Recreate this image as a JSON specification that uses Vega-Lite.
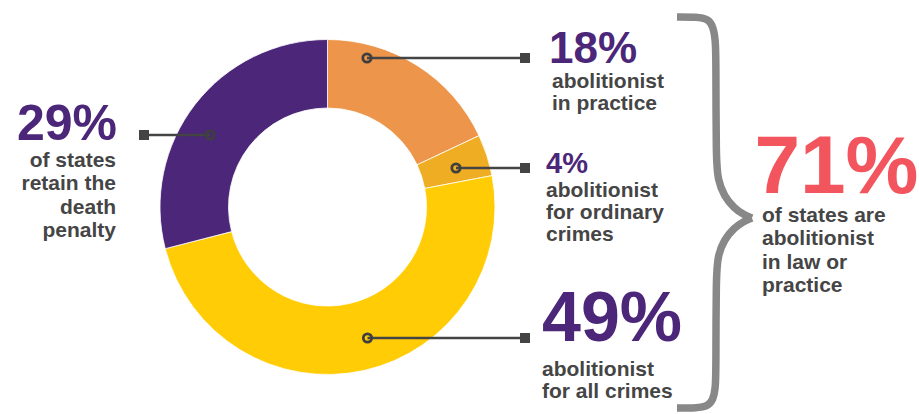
{
  "$schema": "https://vega.github.io/schema/vega-lite/v6.json",
  "width": 655,
  "height": 414,
  "padding": 0,
  "autosize": {"type": "pad"},
  "background": "white",
  "config": {"view": {"stroke": null}, "text": {"font": "Liberation Sans"}},
  "datasets": {
    "shares": [
      {"status": "Abolitionist in practice", "pct": 18, "order": 1},
      {"status": "Abolitionist for ordinary crimes", "pct": 4, "order": 2},
      {"status": "Abolitionist for all crimes", "pct": 49, "order": 3},
      {"status": "Retain the death penalty", "pct": 29, "order": 4}
    ],
    "callouts": [
      {"status": "Retain the death penalty", "side": "left", "pct_label": "29%", "note": "of states\nretain the\ndeath\npenalty", "dot_x": 210, "end_x": 144, "line_y": 135, "pct_x": 117, "pct_y": 140, "note_x": 116, "note_y": 167},
      {"status": "Abolitionist in practice", "side": "right", "pct_label": "18%", "note": "abolitionist\nin practice", "dot_x": 367, "end_x": 525, "line_y": 58, "pct_x": 549, "pct_y": 63, "note_x": 552, "note_y": 88},
      {"status": "Abolitionist for ordinary crimes", "side": "right", "pct_label": "4%", "note": "abolitionist\nfor ordinary\ncrimes", "dot_x": 456, "end_x": 525, "line_y": 168, "pct_x": 546, "pct_y": 173, "note_x": 546, "note_y": 197},
      {"status": "Abolitionist for all crimes", "side": "right", "pct_label": "49%", "note": "abolitionist\nfor all crimes", "dot_x": 367.5, "end_x": 525, "line_y": 338, "pct_x": 542, "pct_y": 341, "note_x": 542, "note_y": 376}
    ],
    "summary": [
      {"pct_label": "71%", "note": "of states are\nabolitionist\nin law or\npractice", "pct_x": 918.5, "pct_y": 193, "note_x": 762, "note_y": 222}
    ],
    "brace": [
      {"part": "upper", "i": 0, "x": 677, "y": 17},
      {"part": "upper", "i": 1, "x": 697, "y": 17},
      {"part": "upper", "i": 2, "x": 708, "y": 19},
      {"part": "upper", "i": 3, "x": 713, "y": 26},
      {"part": "upper", "i": 4, "x": 715.5, "y": 40},
      {"part": "upper", "i": 5, "x": 716, "y": 60},
      {"part": "upper", "i": 6, "x": 716, "y": 160},
      {"part": "upper", "i": 7, "x": 718, "y": 180},
      {"part": "upper", "i": 8, "x": 724, "y": 196},
      {"part": "upper", "i": 9, "x": 734, "y": 208},
      {"part": "upper", "i": 10, "x": 744, "y": 215},
      {"part": "upper", "i": 11, "x": 752, "y": 218},
      {"part": "lower", "i": 0, "x": 752, "y": 218},
      {"part": "lower", "i": 1, "x": 744, "y": 221},
      {"part": "lower", "i": 2, "x": 734, "y": 228},
      {"part": "lower", "i": 3, "x": 724, "y": 240},
      {"part": "lower", "i": 4, "x": 718, "y": 255},
      {"part": "lower", "i": 5, "x": 716, "y": 275},
      {"part": "lower", "i": 6, "x": 716, "y": 370},
      {"part": "lower", "i": 7, "x": 715.5, "y": 388},
      {"part": "lower", "i": 8, "x": 713, "y": 400},
      {"part": "lower", "i": 9, "x": 708, "y": 406},
      {"part": "lower", "i": 10, "x": 697, "y": 408},
      {"part": "lower", "i": 11, "x": 677, "y": 408}
    ]
  },
  "layer": [
    {
      "data": {"name": "shares"},
      "mark": {"type": "arc", "outerRadius": 167.5, "innerRadius": 99, "stroke": "white", "strokeWidth": 0.8},
      "encoding": {
        "theta": {"field": "pct", "type": "quantitative", "stack": true},
        "order": {"field": "order", "type": "quantitative"},
        "color": {
          "field": "status", "type": "nominal", "legend": null,
          "scale": {
            "domain": ["Abolitionist in practice", "Abolitionist for ordinary crimes", "Abolitionist for all crimes", "Retain the death penalty"],
            "range": ["#ED954A", "#EEAD22", "#FFCC05", "#4B2679"]
          }
        }
      }
    },
    {
      "data": {"name": "brace"},
      "mark": {"type": "line", "interpolate": "basis", "strokeWidth": 7.5, "color": "#888888", "strokeCap": "butt"},
      "encoding": {
        "x": {"field": "x", "type": "quantitative", "scale": {"domain": [0, 655], "nice": false, "zero": false}, "axis": null},
        "y": {"field": "y", "type": "quantitative", "scale": {"domain": [0, 414], "nice": false, "zero": false, "reverse": true}, "axis": null},
        "detail": {"field": "part"},
        "order": {"field": "i", "type": "quantitative"}
      }
    },
    {
      "data": {"name": "callouts"},
      "mark": {"type": "rule", "color": "#444444", "strokeWidth": 2.5},
      "encoding": {
        "x": {"field": "dot_x", "type": "quantitative", "scale": {"domain": [0, 655], "nice": false, "zero": false}, "axis": null},
        "x2": {"field": "end_x"},
        "y": {"field": "line_y", "type": "quantitative", "scale": {"domain": [0, 414], "nice": false, "zero": false, "reverse": true}, "axis": null}
      }
    },
    {
      "data": {"name": "callouts"},
      "mark": {"type": "point", "shape": "square", "filled": true, "size": 100, "color": "#444444", "opacity": 1},
      "encoding": {
        "x": {"field": "end_x", "type": "quantitative"},
        "y": {"field": "line_y", "type": "quantitative"}
      }
    },
    {
      "data": {"name": "callouts"},
      "mark": {"type": "point", "shape": "circle", "filled": false, "size": 70, "color": "#3f3f3f", "strokeWidth": 2.8, "opacity": 1, "strokeOpacity": 1},
      "encoding": {
        "x": {"field": "dot_x", "type": "quantitative"},
        "y": {"field": "line_y", "type": "quantitative"}
      }
    },
    {
      "data": {"name": "callouts"},
      "transform": [{"filter": "datum.pct_label === '29%'"}],
      "mark": {"type": "text", "align": "right", "baseline": "alphabetic", "fontWeight": "bold", "fontSize": 50, "color": "#4B2679"},
      "encoding": {
        "x": {"field": "pct_x", "type": "quantitative"},
        "y": {"field": "pct_y", "type": "quantitative"},
        "text": {"field": "pct_label"}
      }
    },
    {
      "data": {"name": "callouts"},
      "transform": [{"filter": "datum.pct_label === '18%'"}],
      "mark": {"type": "text", "align": "left", "baseline": "alphabetic", "fontWeight": "bold", "fontSize": 44, "color": "#4B2679"},
      "encoding": {
        "x": {"field": "pct_x", "type": "quantitative"},
        "y": {"field": "pct_y", "type": "quantitative"},
        "text": {"field": "pct_label"}
      }
    },
    {
      "data": {"name": "callouts"},
      "transform": [{"filter": "datum.pct_label === '4%'"}],
      "mark": {"type": "text", "align": "left", "baseline": "alphabetic", "fontWeight": "bold", "fontSize": 29, "color": "#4B2679"},
      "encoding": {
        "x": {"field": "pct_x", "type": "quantitative"},
        "y": {"field": "pct_y", "type": "quantitative"},
        "text": {"field": "pct_label"}
      }
    },
    {
      "data": {"name": "callouts"},
      "transform": [{"filter": "datum.pct_label === '49%'"}],
      "mark": {"type": "text", "align": "left", "baseline": "alphabetic", "fontWeight": "bold", "fontSize": 70, "color": "#4B2679"},
      "encoding": {
        "x": {"field": "pct_x", "type": "quantitative"},
        "y": {"field": "pct_y", "type": "quantitative"},
        "text": {"field": "pct_label"}
      }
    },
    {
      "data": {"name": "summary"},
      "mark": {"type": "text", "align": "right", "baseline": "alphabetic", "fontWeight": "bold", "fontSize": 82, "color": "#F2555E"},
      "encoding": {
        "x": {"field": "pct_x", "type": "quantitative"},
        "y": {"field": "pct_y", "type": "quantitative"},
        "text": {"field": "pct_label"}
      }
    },
    {
      "data": {"name": "callouts"},
      "transform": [{"filter": "datum.side === 'left'"}],
      "mark": {"type": "text", "align": "right", "baseline": "alphabetic", "fontWeight": "bold", "fontSize": 21, "lineHeight": 23.3, "lineBreak": "\n", "color": "#454545"},
      "encoding": {
        "x": {"field": "note_x", "type": "quantitative"},
        "y": {"field": "note_y", "type": "quantitative"},
        "text": {"field": "note"}
      }
    },
    {
      "data": {"name": "callouts"},
      "transform": [{"filter": "datum.side === 'right'"}],
      "mark": {"type": "text", "align": "left", "baseline": "alphabetic", "fontWeight": "bold", "fontSize": 21, "lineHeight": 22, "lineBreak": "\n", "color": "#454545"},
      "encoding": {
        "x": {"field": "note_x", "type": "quantitative"},
        "y": {"field": "note_y", "type": "quantitative"},
        "text": {"field": "note"}
      }
    },
    {
      "data": {"name": "summary"},
      "mark": {"type": "text", "align": "left", "baseline": "alphabetic", "fontWeight": "bold", "fontSize": 21, "lineHeight": 23.3, "lineBreak": "\n", "color": "#454545"},
      "encoding": {
        "x": {"field": "note_x", "type": "quantitative"},
        "y": {"field": "note_y", "type": "quantitative"},
        "text": {"field": "note"}
      }
    }
  ]
}
